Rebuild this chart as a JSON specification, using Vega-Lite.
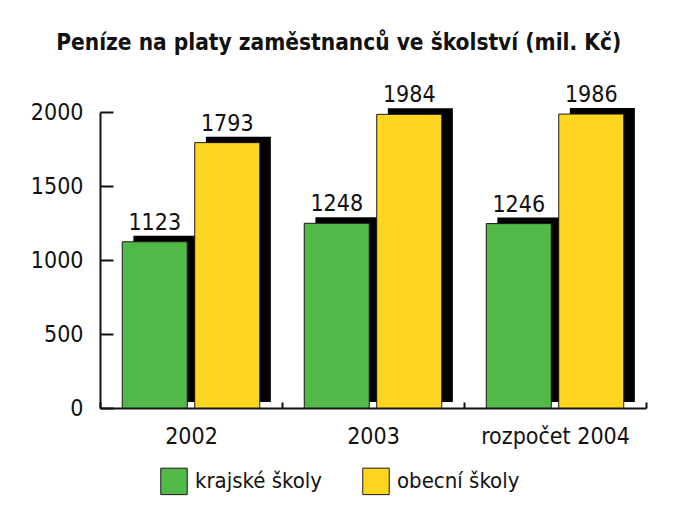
{
  "$schema": "https://vega.github.io/schema/vega-lite/v6.json",
  "width": 546,
  "height": 296,
  "padding": {"left": 30, "top": 31, "right": 5, "bottom": 5},
  "background": "white",
  "title": {
    "text": "Peníze na platy zaměstnanců ve školství (mil. Kč)",
    "font": "DejaVu Sans Condensed, Roboto, sans-serif",
    "fontSize": 22.5,
    "fontWeight": "bold",
    "color": "#111111",
    "anchor": "middle",
    "frame": "bounds",
    "offset": 30
  },
  "data": {
    "values": [
      {"rok": "2002", "typ": "krajské školy", "v": 1123},
      {"rok": "2002", "typ": "obecní školy", "v": 1793},
      {"rok": "2003", "typ": "krajské školy", "v": 1248},
      {"rok": "2003", "typ": "obecní školy", "v": 1984},
      {"rok": "rozpočet 2004", "typ": "krajské školy", "v": 1246},
      {"rok": "rozpočet 2004", "typ": "obecní školy", "v": 1986}
    ]
  },
  "encoding": {
    "x": {
      "field": "rok",
      "type": "nominal",
      "scale": {"paddingInner": 0, "paddingOuter": 0},
      "axis": {
        "title": null,
        "labelAngle": 0,
        "labelFont": "DejaVu Sans Condensed, Roboto, sans-serif",
        "labelFontSize": 23,
        "labelColor": "#111111",
        "labelPadding": 23,
        "domainColor": "#111111",
        "domainWidth": 2,
        "tickColor": "#111111",
        "tickWidth": 2,
        "tickSize": -6,
        "tickBand": "extent"
      }
    },
    "y": {
      "field": "v",
      "type": "quantitative",
      "scale": {"domain": [0, 2000], "nice": false},
      "axis": {
        "title": null,
        "grid": false,
        "format": "d",
        "values": [0, 500, 1000, 1500, 2000],
        "labelFont": "DejaVu Sans Condensed, Roboto, sans-serif",
        "labelFontSize": 23,
        "labelColor": "#111111",
        "labelPadding": 30,
        "domainColor": "#111111",
        "domainWidth": 2,
        "tickColor": "#111111",
        "tickWidth": 2,
        "tickSize": -13
      }
    }
  },
  "layer": [
    {
      "mark": {"type": "bar", "color": "#000000", "yOffset": -6, "y2Offset": -6},
      "encoding": {
        "xOffset": {
          "field": "typ",
          "type": "nominal",
          "scale": {"type": "band", "paddingInner": 0.103, "paddingOuter": 0.307, "align": 0.75}
        }
      }
    },
    {
      "mark": {"type": "bar", "stroke": "#1a1a1a", "strokeWidth": 1},
      "encoding": {
        "xOffset": {
          "field": "typ",
          "type": "nominal",
          "scale": {"type": "band", "paddingInner": 0.103, "paddingOuter": 0.307}
        },
        "color": {
          "field": "typ",
          "type": "nominal",
          "scale": {"domain": ["krajské školy", "obecní školy"], "range": ["#52b848", "#fed51f"]},
          "legend": {
            "title": null,
            "orient": "none",
            "legendX": 60,
            "legendY": 355,
            "direction": "horizontal",
            "symbolType": "square",
            "symbolSize": 700,
            "symbolStrokeColor": "#1a1a1a",
            "symbolStrokeWidth": 1,
            "symbolOpacity": 1,
            "labelFont": "DejaVu Sans Condensed, Roboto, sans-serif",
            "labelFontSize": 22,
            "labelColor": "#111111",
            "labelOffset": 7,
            "columnPadding": 38,
            "labelLimit": 300
          }
        }
      }
    },
    {
      "mark": {"type": "text", "font": "DejaVu Sans Condensed, Roboto, sans-serif", "fontSize": 23, "color": "#111111", "baseline": "alphabetic", "dy": -12},
      "encoding": {
        "xOffset": {
          "field": "typ",
          "type": "nominal",
          "scale": {"type": "band", "paddingInner": 0.103, "paddingOuter": 0.307}
        },
        "text": {"field": "v", "type": "quantitative"}
      }
    }
  ],
  "resolve": {"scale": {"xOffset": "independent"}},
  "config": {"view": {"stroke": null}}
}
